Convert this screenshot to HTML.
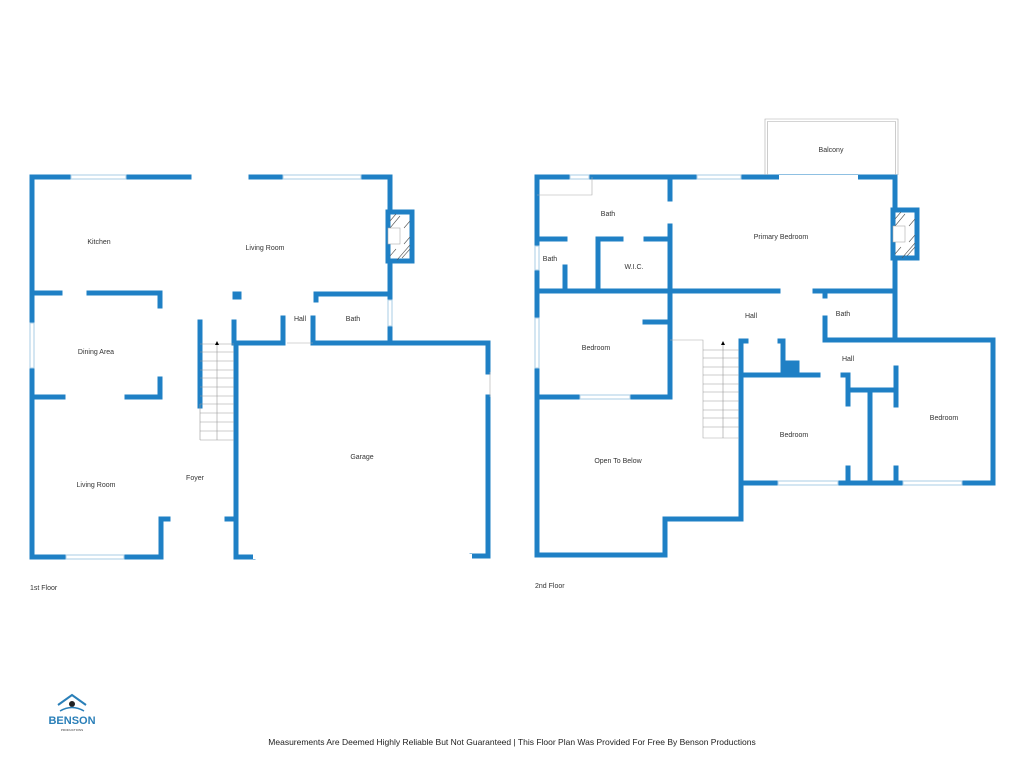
<!DOCTYPE html>
<html><head><meta charset="utf-8"><style>
html,body{margin:0;padding:0;background:#fff;width:1024px;height:768px;overflow:hidden}
svg{display:block}
text{font-family:"Liberation Sans",sans-serif;fill:#333;font-size:7px}
</style></head><body>
<svg width="1024" height="768" viewBox="0 0 1024 768">
<g stroke="#1f80c5" stroke-width="5" fill="none" stroke-linecap="square">
<!-- 1st floor -->
<path d="M32 177H189M251 177H390V343"/>
<path d="M32 177V557H161V519H168"/>
<path d="M32 293H60M89 293H160V306M160 379V397H127M63 397H32"/>
<path d="M283 318V343H236V557H253M472 556H488V397M488 372V343H313V318M316 294V300M316 294H390"/>
<path d="M200 322V406M234 322V343"/>
<path d="M227 519H234"/>
<rect x="388" y="212" width="24" height="49" fill="#fff"/>
<rect x="235" y="294" width="4" height="3" fill="#1f80c5"/>
<!-- 2nd floor -->
<path d="M537 177H895V340H993V483H741V341M741 341H746M780 341H783V373M741 375H818"/>
<path d="M537 177V555H665V519H741V483"/>
<path d="M670 177V199M670 226V397H630M580 397H537M645 322H670"/>
<path d="M537 239H565M598 239H621M646 239H670M565 267V291M598 239V291"/>
<path d="M537 291H778M815 291H895M825 291V296M825 318V340H895"/>
<path d="M848 375V404M848 468V483M843 375H848M848 390H896M870 390V483M896 368V405M896 468V483"/>
<rect x="893" y="210" width="24" height="48" fill="#fff"/>
<rect x="783" y="363" width="14" height="11" fill="#1f80c5"/>
</g>
<!-- windows -->
<g fill="#fff" stroke="#a9cde6" stroke-width="1">
<rect x="71" y="175" width="55" height="4"/><rect x="283" y="175" width="78" height="4"/>
<rect x="30" y="323" width="4" height="45"/><rect x="66" y="555" width="58" height="4"/>
<rect x="388" y="300" width="4" height="26"/>
<rect x="570" y="175" width="19" height="4"/><rect x="697" y="175" width="44" height="4"/>
<rect x="535" y="246" width="4" height="24"/><rect x="535" y="318" width="4" height="50"/>
<rect x="580" y="395" width="50" height="4"/><rect x="778" y="481" width="60" height="4"/><rect x="903" y="481" width="59" height="4"/>
</g>
<rect x="779" y="175" width="79" height="5" fill="#fff"/>
<rect x="253" y="554" width="219" height="5" fill="#fff"/>
<g stroke="#aaa" stroke-width="0.6" fill="none">
<path d="M765 175V119H898V175M767.5 175V121.5H895.5V175"/>
<path d="M537 195H592V177"/>
<path d="M670 340H703V438H739"/>
<path d="M490 372V397M287 343H313"/>
</g>
<!-- fireplace hatch -->
<g stroke="#555" stroke-width="0.6">
<path d="M390 221l6-7M390 228l10-12M402 258l8-9M397 260l13-15M390 256l6-7M404 228l6-7M404 244l6-7"/>
<path d="M895 219l6-7M895 226l10-12M907 256l8-9M902 258l13-15M895 254l6-7M909 226l6-7M909 242l6-7"/>
</g>
<rect x="388" y="228" width="12" height="16" fill="#fff" stroke="#aaa" stroke-width="0.6"/>
<rect x="893" y="226" width="12" height="16" fill="#fff" stroke="#aaa" stroke-width="0.6"/>
<!-- stairs -->
<g stroke="#999" stroke-width="0.6" fill="none">
<path d="M200 344H234M200 352H234M200 361H234M200 370H234M200 378H234M200 387H234M200 396H234M200 404H234M200 413H234M200 422H234M200 431H234M200 440H234M200 404V440"/>
<path d="M217 344V440"/>
<path d="M703 350H739M703 358H739M703 367H739M703 375H739M703 384H739M703 392H739M703 401H739M703 410H739M703 418H739M703 427H739"/>
<path d="M723 344V438"/>
</g>
<path d="M217 341l-2 4h4z M723 341l-2 4h4z" fill="#000"/>
<!-- labels -->
<g text-anchor="middle">
<text x="99" y="244">Kitchen</text><text x="265" y="250">Living Room</text>
<text x="96" y="354">Dining Area</text><text x="300" y="321">Hall</text><text x="353" y="321">Bath</text>
<text x="96" y="487">Living Room</text><text x="195" y="480">Foyer</text><text x="362" y="459">Garage</text>
<text x="831" y="152">Balcony</text><text x="608" y="216">Bath</text><text x="781" y="239">Primary Bedroom</text>
<text x="550" y="261">Bath</text><text x="634" y="269">W.I.C.</text><text x="751" y="318">Hall</text><text x="843" y="316">Bath</text>
<text x="596" y="350">Bedroom</text><text x="848" y="361">Hall</text><text x="944" y="420">Bedroom</text>
<text x="794" y="437">Bedroom</text><text x="618" y="463">Open To Below</text>
</g>
<text x="30" y="590">1st Floor</text><text x="535" y="588">2nd Floor</text>
<text x="512" y="745" text-anchor="middle" style="font-size:8.5px;fill:#222">Measurements Are Deemed Highly Reliable But Not Guaranteed | This Floor Plan Was Provided For Free By Benson Productions</text>
<!-- logo -->
<path d="M58 705L72 695L86 705" stroke="#2a7fb8" stroke-width="2" fill="none"/>
<circle cx="72" cy="704" r="3" fill="#222"/>
<path d="M60 711Q72 704 84 711" stroke="#2a7fb8" stroke-width="1.5" fill="none"/>
<text x="72" y="724" text-anchor="middle" style="font-size:11px;font-weight:bold;fill:#2a7fb8">BENSON</text>
<text x="72" y="731" text-anchor="middle" style="font-size:3px;fill:#333">PRODUCTIONS</text>
</svg>
</body></html>
